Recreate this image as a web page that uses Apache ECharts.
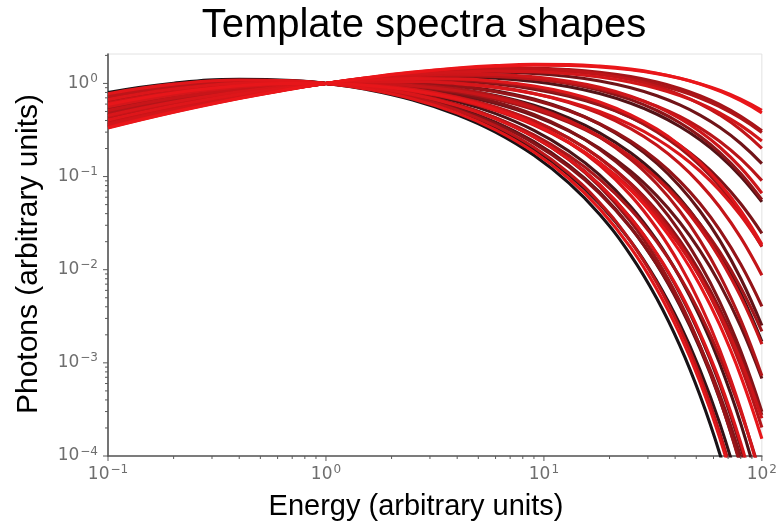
<!DOCTYPE html>
<html><head><meta charset="utf-8">
<script src="https://cdn.jsdelivr.net/npm/echarts@6/dist/echarts.min.js"></script>
<style>html,body{margin:0;padding:0;background:#fff}#c{width:780px;height:526px}</style>
</head><body><div id="c"></div>
<script>
// Energy grid (x values)
const energy = [0.1, 0.2, 0.4, 0.7, 1, 1.5, 2.5, 4, 6, 9, 13, 18, 25, 33, 42, 52, 64, 80, 100];

// Template spectra (photons, arbitrary units), in drawing order
const s01 = [0.80, 1.005, 1.105, 1.074, 1, 0.872, 0.665, 0.461, 0.300, 0.169, 0.0854, 0.0393, 0.01437, 4.89e-3, 1.545e-3, 4.49e-4, 1.07e-4, 1.66e-5];
const s02 = [0.761, 0.966, 1.076, 1.062, 1, 0.886, 0.693, 0.496, 0.333, 0.1966, 0.1047, 0.0512, 0.02026, 7.52e-3, 2.61e-3, 8.42e-4, 2.26e-4, 4.11e-5];
const s03 = [0.4925, 0.6766, 0.852, 0.959, 1, 1.013, 0.970, 0.871, 0.741, 0.582, 0.4265, 0.2946, 0.1797, 0.1046, 0.0582, 0.0308, 0.01465, 5.56e-3, 1.694e-3];
const s04 = [0.618, 0.815, 0.963, 1.012, 1, 0.943, 0.809, 0.638, 0.4735, 0.313, 0.1882, 0.1042, 0.0478, 0.0206, 8.29e-3, 3.11e-3, 9.89e-4, 2.225e-4, 3.59e-5];
const s05 = [0.394, 0.5634, 0.755, 0.910, 1, 1.086, 1.158, 1.173, 1.136, 1.047, 0.921, 0.778, 0.612, 0.4665, 0.345, 0.248, 0.1679, 0.1005, 0.0535];
const s06 = [0.700, 0.902, 1.029, 1.041, 1, 0.908, 0.737, 0.5487, 0.3837, 0.2369, 0.1325, 0.0681, 0.02863, 0.01128, 4.16e-3, 1.426e-3, 4.1e-4, 8.13e-5];
const s07 = [0.4546, 0.634, 0.8166, 0.941, 1, 1.037, 1.026, 0.952, 0.836, 0.680, 0.5149, 0.3667, 0.2311, 0.1384, 0.0788, 0.0427, 0.02077, 8.06e-3, 2.516e-3];
const s08 = [0.557, 0.748, 0.909, 0.986, 1, 0.977, 0.889, 0.754, 0.6076, 0.4493, 0.3093, 0.2008, 0.114, 0.062, 0.03227, 0.016, 7.09e-3, 2.462e-3, 6.8e-4];
const s09 = [0.362, 0.5256, 0.7215, 0.892, 1, 1.115, 1.235, 1.304, 1.318, 1.279, 1.189, 1.064, 0.8997, 0.7376, 0.588, 0.457, 0.3379, 0.2265, 0.1378];
const s10 = [0.661, 0.861, 0.998, 1.027, 1, 0.924, 0.769, 0.5876, 0.422, 0.2685, 0.1549, 0.0822, 0.03586, 0.01465, 5.6e-3, 1.99e-3, 5.95e-4, 1.24e-4, 1.82e-5];
const s11 = [0.4286, 0.6034, 0.7895, 0.927, 1, 1.06, 1.089, 1.06, 0.987, 0.869, 0.728, 0.585, 0.4338, 0.3117, 0.2174, 0.1469, 0.0929, 0.051, 0.02454];
const s12 = [0.528, 0.7164, 0.885, 0.975, 1, 0.989, 0.913, 0.782, 0.632, 0.4637, 0.3132, 0.1968, 0.1058, 0.0537, 0.0257, 0.01157, 4.54e-3, 1.337e-3, 2.99e-4];
const s13 = [0.7258, 0.929, 1.048, 1.049, 1, 0.900, 0.7225, 0.532, 0.3696, 0.2275, 0.1275, 0.066, 0.02822, 0.01138, 4.32e-3, 1.535e-3, 4.61e-4, 9.74e-5, 1.47e-5];
const s14 = [0.3793, 0.5461, 0.7398, 0.902, 1, 1.098, 1.188, 1.221, 1.198, 1.118, 0.994, 0.847, 0.670, 0.512, 0.3786, 0.2711, 0.1823, 0.1079, 0.0564];
const s15 = [0.5837, 0.777, 0.932, 0.997, 1, 0.962, 0.855, 0.706, 0.552, 0.3925, 0.2583, 0.1594, 0.0847, 0.0429, 0.02067, 9.44e-3, 3.79e-3, 1.162e-3, 2.75e-4];
const s16 = [0.4703, 0.6511, 0.831, 0.948, 1, 1.028, 1.008, 0.929, 0.814, 0.664, 0.5085, 0.369, 0.2399, 0.1496, 0.0895, 0.0513, 0.02677, 0.01145, 4.05e-3];
const s17 = [0.6444, 0.8437, 0.986, 1.023, 1, 0.929, 0.777, 0.595, 0.4259, 0.2684, 0.152, 0.0785, 0.03285, 0.01275, 4.59e-3, 1.52e-3, 4.18e-4, 7.74e-5];
const s18 = [0.4137, 0.5867, 0.7756, 0.920, 1, 1.069, 1.111, 1.091, 1.021, 0.900, 0.750, 0.596, 0.4326, 0.302, 0.2032, 0.1317, 0.0789, 0.0403, 0.0176];
const s19 = [0.5306, 0.718, 0.885, 0.974, 1, 0.993, 0.927, 0.812, 0.678, 0.5248, 0.3822, 0.2645, 0.1635, 0.0975, 0.0561, 0.031, 0.01561, 6.42e-3, 2.18e-3];
const s20 = [0.3458, 0.5066, 0.7037, 0.882, 1, 1.131, 1.281, 1.389, 1.444, 1.452, 1.406, 1.319, 1.183, 1.033, 0.883, 0.738, 0.594, 0.4446, 0.3097];
const s21 = [0.6745, 0.874, 1.007, 1.031, 1, 0.922, 0.767, 0.590, 0.4291, 0.2802, 0.168, 0.094, 0.04436, 0.01988, 8.47e-3, 3.4e-3, 1.178e-3, 2.995e-4, 5.67e-5];
const s22 = [0.354, 0.516, 0.712, 0.887, 1, 1.124, 1.261, 1.356, 1.398, 1.394, 1.342, 1.252, 1.119, 0.975, 0.832, 0.697, 0.5625, 0.4234, 0.2977];
const s23 = [0.4852, 0.6687, 0.846, 0.957, 1, 1.015, 0.973, 0.868, 0.732, 0.564, 0.4017, 0.2667, 0.1534, 0.0833, 0.04275, 0.02069, 8.81e-3, 2.88e-3, 7.28e-4];
const s24 = [0.572, 0.7645, 0.923, 0.993, 1, 0.967, 0.864, 0.7155, 0.560, 0.3973, 0.2596, 0.1582, 0.0824, 0.04064, 0.019, 8.36e-3, 3.21e-3, 9.25e-4, 2.02e-4];
const s25 = [0.3864, 0.5542, 0.7465, 0.905, 1, 1.094, 1.179, 1.21, 1.19, 1.12, 1.009, 0.8775, 0.717, 0.570, 0.4416, 0.3335, 0.2393, 0.1547, 0.0905];
const s26 = [0.7246, 0.929, 1.05, 1.051, 1, 0.897, 0.713, 0.5162, 0.3494, 0.2063, 0.1091, 0.0525, 0.02017, 7.19e-3, 2.373e-3, 7.2e-4, 1.793e-4, 2.94e-5];
const s27 = [0.342, 0.502, 0.700, 0.881, 1, 1.133, 1.286, 1.392, 1.442, 1.437, 1.373, 1.263, 1.100, 0.927, 0.759, 0.605, 0.460, 0.3188, 0.2012];
const s28 = [0.4393, 0.6161, 0.8005, 0.9335, 1, 1.049, 1.061, 1.012, 0.918, 0.780, 0.6244, 0.4751, 0.3272, 0.2165, 0.1376, 0.0841, 0.04714, 0.0221, 8.72e-3];
const s29 = [0.512, 0.698, 0.869, 0.967, 1, 1.002, 0.946, 0.836, 0.702, 0.5441, 0.3947, 0.2703, 0.1638, 0.095, 0.05283, 0.02806, 0.01341, 5.14e-3, 1.59e-3];
const s30 = [0.6163, 0.8116, 0.959, 1.009, 1, 0.948, 0.825, 0.667, 0.512, 0.3577, 0.2319, 0.1415, 0.07457, 0.03761, 0.01815, 8.32e-3, 3.37e-3, 1.05e-3, 2.54e-4];
const s31 = [0.3702, 0.5354, 0.7305, 0.897, 1, 1.106, 1.209, 1.256, 1.245, 1.175, 1.057, 0.910, 0.730, 0.5644, 0.422, 0.3056, 0.2078, 0.1247, 0.0662];
const s32 = [0.3602, 0.5232, 0.719, 0.890, 1, 1.118, 1.245, 1.326, 1.356, 1.338, 1.272, 1.172, 1.031, 0.884, 0.742, 0.6101, 0.4827, 0.3542, 0.2414];
const s33 = [0.5617, 0.754, 0.916, 0.990, 1, 0.968, 0.863, 0.708, 0.544, 0.3734, 0.2324, 0.1327, 0.0628, 0.02769, 0.01137, 4.32e-3, 1.392e-3, 3.16e-4, 5.11e-5];
const s34 = [0.4534, 0.6316, 0.813, 0.939, 1, 1.043, 1.047, 0.995, 0.905, 0.777, 0.635, 0.4987, 0.3607, 0.2533, 0.173, 0.1147, 0.0711, 0.03823, 0.01795];
const s35 = [0.6702, 0.870, 1.005, 1.031, 1, 0.921, 0.763, 0.581, 0.4166, 0.2651, 0.1533, 0.0818, 0.036, 0.0149, 5.79e-3, 2.09e-3, 6.41e-4, 1.377e-4, 2.11e-5];
const s36 = [0.4042, 0.5754, 0.766, 0.916, 1, 1.076, 1.128, 1.119, 1.055, 0.938, 0.789, 0.631, 0.4603, 0.3227, 0.2177, 0.1413, 0.0846, 0.04313, 0.01878];
const s37 = [0.7767, 0.982, 1.088, 1.067, 1, 0.880, 0.681, 0.4805, 0.3178, 0.1837, 0.0954, 0.04529, 0.01726, 6.14e-3, 2.036e-3, 6.24e-4, 1.578e-4, 2.65e-5];
const s38 = [0.3365, 0.495, 0.6934, 0.8767, 1, 1.141, 1.311, 1.444, 1.528, 1.57, 1.561, 1.506, 1.402, 1.275, 1.136, 0.9947, 0.8449, 0.6786, 0.5152];
const s39 = [0.5959, 0.790, 0.943, 1.002, 1, 0.956, 0.839, 0.683, 0.525, 0.3652, 0.2339, 0.1398, 0.0713, 0.03446, 0.01578, 6.82e-3, 2.566e-3, 7.21e-4, 1.534e-4];
const s40 = [0.3316, 0.4892, 0.688, 0.874, 1, 1.146, 1.322, 1.464, 1.554, 1.600, 1.592, 1.536, 1.424, 1.288, 1.138, 0.9865, 0.827, 0.652, 0.483];

const spectra = [s01,s02,s03,s04,s05,s06,s07,s08,s09,s10,s11,s12,s13,s14,s15,s16,s17,s18,s19,s20,
                 s21,s22,s23,s24,s25,s26,s27,s28,s29,s30,s31,s32,s33,s34,s35,s36,s37,s38,s39,s40];

// Axis ticks
const xTickValues = [0.1, 1, 10, 100];
const xTickExponents = ['\u22121', '0', '1', '2'];
const yTickValues = [1e-4, 1e-3, 1e-2, 1e-1, 1];
const yTickExponents = ['\u22124', '\u22123', '\u22122', '\u22121', '0'];
const xMinorTicks = [0.2,0.3,0.4,0.5,0.6,0.7,0.8,0.9, 2,3,4,5,6,7,8,9, 20,30,40,50,60,70,80,90];
const yMinorTicks = [2e-4,3e-4,4e-4,5e-4,6e-4,7e-4,8e-4,9e-4, 2e-3,3e-3,4e-3,5e-3,6e-3,7e-3,8e-3,9e-3,
                     2e-2,3e-2,4e-2,5e-2,6e-2,7e-2,8e-2,9e-2, 0.2,0.3,0.4,0.5,0.6,0.7,0.8,0.9, 2];

const X_MIN = 0.1, X_MAX = 100, Y_MIN = 1e-4, Y_MAX = 2.07;

function expLabel(v, values, exps) {
  for (let i = 0; i < values.length; i++) {
    if (Math.abs(Math.log10(v) - Math.log10(values[i])) < 1e-6) return '{b|10}{s|' + exps[i] + '}';
  }
  return '';
}

const chart = echarts.init(document.getElementById('c'), null, {renderer: 'canvas'});
const N = spectra.length;
function colorFor(i) {
  const k = Math.pow(i / (N - 1), 0.55);
  const r = Math.round(24 + (234 - 24) * k);
  const g = Math.round(18 + (22 - 18) * k);
  return 'rgb(' + r + ',' + g + ',' + (g + 4) + ')';
}

const series = spectra.map((ys, i) => ({
  type: 'line',
  data: ys.map((y, j) => [energy[j], y]),
  showSymbol: false, symbol: 'none',
  smooth: 0.45,
  clip: true, silent: true,
  lineStyle: {width: 3.1, color: colorFor(i)},
  z: 2
}));

const tickColor = '#5a5a5a';
function tickSeries(data, dx, dy, len) {
  return {
    type: 'custom', data: data, clip: false, silent: true, z: 6,
    renderItem: function (params, api) {
      const p = api.coord([api.value(0), api.value(1)]);
      return {type: 'line',
        shape: {x1: p[0], y1: p[1], x2: p[0] + dx * len, y2: p[1] + dy * len},
        style: {stroke: tickColor, lineWidth: 1}};
    }
  };
}
series.push(tickSeries(xMinorTicks.map(v => [v, Y_MIN]), 0, 1, 3));
series.push(tickSeries(xTickValues.map(v => [v, Y_MIN]), 0, 1, 5));
series.push(tickSeries(yMinorTicks.map(v => [X_MIN, v]), -1, 0, 3));
series.push(tickSeries(yTickValues.map(v => [X_MIN, v]), -1, 0, 5));

const richLabel = {
  b: {fontFamily: 'DejaVu Sans', fontSize: 17, color: '#6e6e6e'},
  s: {fontFamily: 'DejaVu Sans', fontSize: 12, color: '#6e6e6e', padding: [0, 0, 9, 1]}
};

const option = {
  animation: false,
  backgroundColor: '#ffffff',
  grid: {left: 108, right: 15, top: 54, bottom: 70, show: true, borderColor: '#e2e2e2', borderWidth: 1, backgroundColor: 'transparent'},
  xAxis: {
    type: 'log', logBase: 10, min: X_MIN, max: X_MAX,
    axisLine: {show: true, onZero: false, lineStyle: {color: '#555', width: 1.6}},
    axisTick: {show: false},
    splitLine: {show: false},
    axisLabel: {margin: 8, formatter: v => expLabel(v, xTickValues, xTickExponents), rich: richLabel,
                showMinLabel: true, showMaxLabel: true}
  },
  yAxis: {
    type: 'log', logBase: 10, min: Y_MIN, max: Y_MAX,
    axisLine: {show: true, onZero: false, lineStyle: {color: '#555', width: 1.6}},
    axisTick: {show: false},
    splitLine: {show: false},
    axisLabel: {margin: 10, formatter: v => expLabel(v, yTickValues, yTickExponents), rich: richLabel,
                showMinLabel: true, showMaxLabel: true}
  },
  graphic: [
    {type: 'text', x: 424, y: 26, z: 10,
     style: {text: 'Template spectra shapes', align: 'center', verticalAlign: 'middle',
             font: '40px "Liberation Sans", Arial, sans-serif', fill: '#000'}},
    {type: 'text', x: 416, y: 507, z: 10,
     style: {text: 'Energy (arbitrary units)', align: 'center', verticalAlign: 'middle',
             font: '29px "Liberation Sans", Arial, sans-serif', fill: '#000'}},
    {type: 'text', x: 29, y: 254, rotation: Math.PI / 2, z: 10,
     style: {text: 'Photons (arbitrary units)', align: 'center', verticalAlign: 'middle',
             font: '30px "Liberation Sans", Arial, sans-serif', fill: '#000'}}
  ],
  series: series
};
chart.setOption(option);
</script>
</body></html>
